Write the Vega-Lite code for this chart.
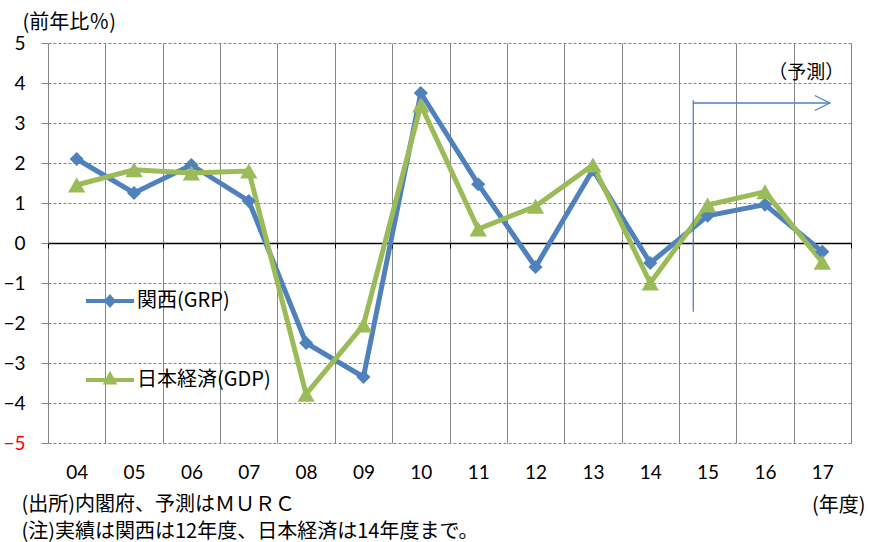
{
  "$schema": "https://vega.github.io/schema/vega-lite/v6.json",
  "width": 803,
  "height": 400,
  "autosize": "none",
  "padding": {"left": 48, "top": 43, "right": 18, "bottom": 99},
  "background": "white",
  "config": {"view": {"stroke": null}, "font": "Noto Sans CJK JP"},
  "datasets": {
    "main": [
      {"year": 4, "series": "関西(GRP)", "value": 2.1},
      {"year": 5, "series": "関西(GRP)", "value": 1.25},
      {"year": 6, "series": "関西(GRP)", "value": 1.95},
      {"year": 7, "series": "関西(GRP)", "value": 1.05},
      {"year": 8, "series": "関西(GRP)", "value": -2.5},
      {"year": 9, "series": "関西(GRP)", "value": -3.35},
      {"year": 10, "series": "関西(GRP)", "value": 3.75},
      {"year": 11, "series": "関西(GRP)", "value": 1.47},
      {"year": 12, "series": "関西(GRP)", "value": -0.6},
      {"year": 13, "series": "関西(GRP)", "value": 1.83},
      {"year": 14, "series": "関西(GRP)", "value": -0.5},
      {"year": 15, "series": "関西(GRP)", "value": 0.68},
      {"year": 16, "series": "関西(GRP)", "value": 0.96},
      {"year": 17, "series": "関西(GRP)", "value": -0.22},
      {"year": 4, "series": "日本経済(GDP)", "value": 1.45},
      {"year": 5, "series": "日本経済(GDP)", "value": 1.83},
      {"year": 6, "series": "日本経済(GDP)", "value": 1.75},
      {"year": 7, "series": "日本経済(GDP)", "value": 1.8},
      {"year": 8, "series": "日本経済(GDP)", "value": -3.78},
      {"year": 9, "series": "日本経済(GDP)", "value": -2.05},
      {"year": 10, "series": "日本経済(GDP)", "value": 3.45},
      {"year": 11, "series": "日本経済(GDP)", "value": 0.35},
      {"year": 12, "series": "日本経済(GDP)", "value": 0.92},
      {"year": 13, "series": "日本経済(GDP)", "value": 1.95},
      {"year": 14, "series": "日本経済(GDP)", "value": -1.0},
      {"year": 15, "series": "日本経済(GDP)", "value": 0.95},
      {"year": 16, "series": "日本経済(GDP)", "value": 1.28},
      {"year": 17, "series": "日本経済(GDP)", "value": -0.48}
    ]
  },
  "layer": [
    {
      "data": {"name": "main"},
      "mark": {"type": "line", "strokeWidth": 5},
      "encoding": {
        "x": {
          "field": "year", "type": "quantitative",
          "scale": {"domain": [3.5, 17.5], "nice": false, "zero": false},
          "axis": {
            "orient": "bottom",
            "values": [4, 5, 6, 7, 8, 9, 10, 11, 12, 13, 14, 15, 16, 17],
            "labelExpr": "datum.value < 10 ? '0' + datum.value : '' + datum.value",
            "labelFont": "Lato", "labelFontSize": 19, "labelColor": "black",
            "labelPadding": 20, "labelFlush": false, "labelOverlap": false,
            "ticks": false, "domain": false, "grid": false,
            "title": ["(出所)内閣府、予測はＭＵＲＣ", "(注)実績は関西は12年度、日本経済は14年度まで。"],
            "titleX": -27, "titleY": 51, "titleAlign": "left", "titleBaseline": "top",
            "titleFont": "Noto Sans CJK JP", "titleFontSize": 20, "titleFontWeight": "normal",
            "titleLineHeight": 27, "titleColor": "black", "zindex": 0
          }
        },
        "y": {
          "field": "value", "type": "quantitative",
          "scale": {"domain": [-5, 5], "nice": false},
          "axis": {
            "values": [-5, -4, -3, -2, -1, 0, 1, 2, 3, 4, 5],
            "grid": true, "gridColor": "#868686", "gridDash": [3, 2], "gridWidth": 1,
            "domain": false, "ticks": true, "tickSize": 7, "tickColor": "#868686",
            "labelFont": "Lato", "labelFontSize": 19,
            "labelColor": {"condition": {"test": "datum.value === -5", "value": "red"}, "value": "black"},
            "labelPadding": 16,
            "title": "(前年比％)", "titleAngle": 0, "titleX": -26, "titleY": -21,
            "titleAlign": "left", "titleBaseline": "middle",
            "titleFont": "Noto Sans CJK JP", "titleFontSize": 20, "titleFontWeight": "normal",
            "titleColor": "black", "zindex": 0
          }
        },
        "color": {
          "field": "series", "type": "nominal",
          "scale": {"domain": ["関西(GRP)", "日本経済(GDP)"], "range": ["#4F81BD", "#9BBB59"]},
          "legend": null
        }
      }
    },
    {
      "data": {"name": "main"},
      "mark": {"type": "point", "filled": true, "opacity": 1},
      "encoding": {
        "x": {
          "field": "year", "type": "quantitative",
          "axis": {
            "orient": "top",
            "values": [3.5, 4.5, 5.5, 6.5, 7.5, 8.5, 9.5, 10.5, 11.5, 12.5, 13.5, 14.5, 15.5, 16.5, 17.5],
            "grid": true, "gridColor": "#868686", "gridWidth": 1,
            "labels": false, "ticks": false, "domain": false,
            "title": "(年度)", "titleX": 817, "titleY": 462, "titleAlign": "right", "titleBaseline": "middle",
            "titleFont": "Noto Sans CJK JP", "titleFontSize": 20, "titleFontWeight": "normal",
            "titleColor": "black", "zindex": 0
          }
        },
        "y": {"field": "value", "type": "quantitative", "axis": null},
        "color": {
          "field": "series", "type": "nominal",
          "scale": {"domain": ["関西(GRP)", "日本経済(GDP)"], "range": ["#4F81BD", "#9BBB59"]},
          "legend": null
        },
        "shape": {
          "field": "series", "type": "nominal",
          "scale": {"domain": ["関西(GRP)", "日本経済(GDP)"], "range": ["diamond", "triangle-up"]},
          "legend": null
        },
        "size": {
          "field": "series", "type": "ordinal",
          "scale": {"domain": ["関西(GRP)", "日本経済(GDP)"], "range": [200, 300]},
          "legend": null
        }
      }
    },
    {
      "data": {"name": "main"},
      "transform": [{"filter": "datum.year < 0"}],
      "mark": {"type": "point", "filled": false, "strokeWidth": 4, "opacity": 1},
      "encoding": {
        "x": {"field": "year", "type": "quantitative", "axis": null},
        "y": {"field": "value", "type": "quantitative", "axis": null},
        "color": {
          "field": "series", "type": "nominal",
          "scale": {"domain": ["関西(GRP)", "日本経済(GDP)"], "range": ["#4F81BD", "#9BBB59"]},
          "legend": {
            "orient": "none", "legendX": 52, "legendY": 248, "title": null, "padding": 0,
            "direction": "vertical",
            "labelFont": "Noto Sans CJK JP", "labelFontSize": 20, "labelColor": "black",
            "labelOffset": 17, "rowPadding": 54, "symbolSize": 100,
            "symbolStrokeWidth": 4, "symbolOpacity": 1
          }
        },
        "shape": {
          "field": "series", "type": "nominal",
          "scale": {"domain": ["関西(GRP)", "日本経済(GDP)"], "range": ["M-4.8,0L4.8,0M0,-0.8L0.7,0L0,0.8L-0.7,0Z", "M-4.8,0L4.8,0M0,-1.0L0.8,0.5L-0.8,0.5Z"]},
          "legend": {
            "orient": "none", "legendX": 52, "legendY": 248, "title": null, "padding": 0,
            "direction": "vertical",
            "labelFont": "Noto Sans CJK JP", "labelFontSize": 20, "labelColor": "black",
            "labelOffset": 17, "rowPadding": 54, "symbolSize": 100,
            "symbolStrokeWidth": 4, "symbolOpacity": 1
          }
        }
      }
    },
    {
      "data": {"values": [{}]},
      "mark": {"type": "rule", "color": "#4F81BD", "strokeWidth": 1.3},
      "encoding": {
        "x": {
          "datum": 14.75, "type": "quantitative",
          "axis": {
            "orient": "bottom", "offset": -200,
            "values": [3.5, 4.5, 5.5, 6.5, 7.5, 8.5, 9.5, 10.5, 11.5, 12.5, 13.5, 14.5, 15.5, 16.5, 17.5],
            "grid": false, "labels": false, "ticks": true, "tickSize": 5, "tickColor": "black", "tickWidth": 1,
            "domain": true, "domainColor": "black", "domainWidth": 1.5, "title": null, "zindex": 0
          }
        },
        "y": {"datum": 3.57, "type": "quantitative", "axis": null},
        "y2": {"datum": -1.72}
      }
    },
    {
      "data": {"values": [{}]},
      "mark": {"type": "rule", "color": "#4F81BD", "strokeWidth": 1.3},
      "encoding": {
        "x": {"datum": 14.75, "type": "quantitative", "axis": null},
        "x2": {"datum": 17.13},
        "y": {"datum": 3.5, "type": "quantitative", "axis": null}
      }
    },
    {
      "data": {"values": [{}]},
      "mark": {"type": "point", "shape": "M-2,-1L0,0L-2,1", "filled": false, "color": "#4F81BD", "strokeWidth": 1.3, "size": 225, "opacity": 1},
      "encoding": {
        "x": {"datum": 17.13, "type": "quantitative", "axis": null},
        "y": {"datum": 3.5, "type": "quantitative", "axis": null}
      }
    },
    {
      "data": {"values": [{}]},
      "mark": {"type": "text", "text": "（予測）", "font": "Noto Sans CJK JP", "fontSize": 19, "color": "black", "align": "center", "baseline": "middle"},
      "encoding": {
        "x": {"datum": 16.72, "type": "quantitative", "axis": null},
        "y": {"datum": 4.25, "type": "quantitative", "axis": null}
      }
    }
  ],
  "resolve": {
    "axis": {"x": "independent", "y": "independent"},
    "legend": {"color": "independent", "shape": "independent"},
    "scale": {"shape": "independent"}
  }
}
